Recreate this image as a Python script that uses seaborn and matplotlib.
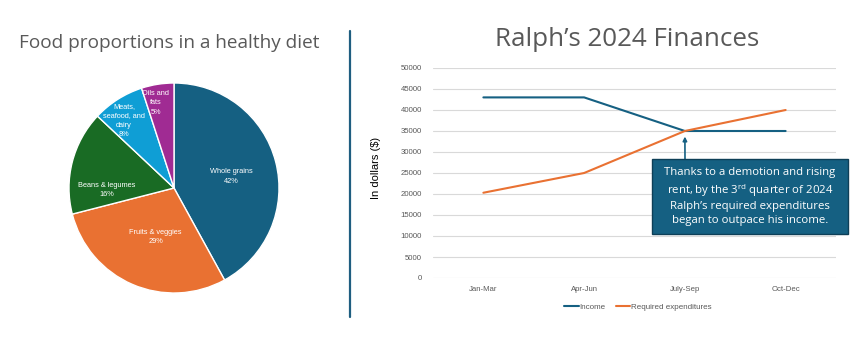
import matplotlib
matplotlib.use("Agg")
import matplotlib.pyplot as plt
from matplotlib.patches import Rectangle
from matplotlib.lines import Line2D
import numpy as np
import pandas as pd
import seaborn as sns

# Pie data: food groups and their share of a healthy diet (percent)
food_groups = ["Whole grains", "Fruits & veggies", "Beans & legumes",
               "Meats,\nseafood, and\ndairy", "Oils and\nfats"]
food_shares = [42, 29, 16, 8, 5]
food_colors = ["#156082", "#E97132", "#196B24", "#0F9ED5", "#A02B93"]

# Line data: quarterly income vs required spending
quarters = ["Jan-Mar", "Apr-Jun", "July-Sep", "Oct-Dec"]
income = [43000, 43000, 35000, 35000]
expenditures = [20300, 25000, 35000, 40000]
series_names = ["Income", "Required expenditures"]
series_colors = ["#156082", "#E97132"]
y_ticks = list(range(0, 50001, 5000))

sns.set_theme(style="white")
plt.rcParams["font.family"] = ["Liberation Sans", "DejaVu Sans"]
plt.rcParams["mathtext.fontset"] = "custom"
plt.rcParams["mathtext.rm"] = "Open Sans"

W, H = 868, 347
fig = plt.figure(figsize=(W / 100, H / 100), dpi=100)
fig.patch.set_facecolor("white")


def px_axes(left, top, right, bottom):
    return fig.add_axes([left / W, 1 - bottom / H, (right - left) / W, (bottom - top) / H])


TITLE_GRAY = "#595959"

# ---------------- Pie chart ----------------
cx, cy, r = 174, 188, 105
pax = px_axes(cx - r, cy - r, cx + r, cy + r)
wedges, _ = pax.pie(food_shares, colors=food_colors, startangle=90, counterclock=False,
                    radius=1.0, wedgeprops=dict(edgecolor="white", linewidth=1.0))
pax.set_xlim(-1, 1)
pax.set_ylim(-1, 1)
pax.set_aspect("equal")
pax.axis("off")

label_radii = [0.56, 0.50, 0.64, 0.80, 0.83]
label_angle_shift = [-3, 3, 16, 4, 3]
for w, name, share, rad, sh in zip(wedges, food_groups, food_shares, label_radii, label_angle_shift):
    ang = np.deg2rad((w.theta1 + w.theta2) / 2 + sh)
    pax.text(rad * np.cos(ang), rad * np.sin(ang), f"{name}\n{share}%",
             ha="center", va="center", color="white", fontsize=5.3, linespacing=1.5)

fig.text(169 / W, 1 - 43 / H, "Food proportions in a healthy diet",
         ha="center", va="center", fontsize=13.7, color=TITLE_GRAY, family=["Open Sans", "DejaVu Sans"])

# Divider between the two panels
fig.add_artist(Line2D([349.5 / W, 349.5 / W], [1 - 31 / H, 1 - 317 / H],
                      color="#1F5E80", linewidth=1.6, transform=fig.transFigure))

# ---------------- Line chart ----------------
lax = px_axes(433, 68, 836, 278)
df = pd.DataFrame({
    "Quarter": quarters * 2,
    "Amount": income + expenditures,
    "Series": [series_names[0]] * len(quarters) + [series_names[1]] * len(quarters),
})
sns.lineplot(data=df, x="Quarter", y="Amount", hue="Series", palette=series_colors,
             sort=False, linewidth=1.5, ax=lax, legend=False)

lax.set_xlim(-0.5, len(quarters) - 0.5)
lax.set_ylim(0, 50000)
lax.set_yticks(y_ticks)
lax.set_yticklabels([str(v) for v in y_ticks])
lax.grid(axis="y", color="#D9D9D9", linewidth=0.8)
lax.grid(axis="x", visible=False)
lax.set_axisbelow(True)
for s in lax.spines.values():
    s.set_visible(False)
lax.tick_params(axis="y", length=0, pad=8, labelsize=5.6, labelcolor=TITLE_GRAY)
lax.tick_params(axis="x", length=0, pad=6, labelsize=5.6, labelcolor=TITLE_GRAY)
lax.set_xlabel("")
lax.set_ylabel("")

fig.text(376 / W, 1 - 168 / H, "In dollars ($)", rotation=90, ha="center", va="center",
         fontsize=8, color="black")

fig.text(627 / W, 1 - 40 / H, "Ralph\u2019s 2024 Finances", ha="center", va="center",
         fontsize=18.7, color=TITLE_GRAY, family=["Open Sans", "DejaVu Sans"])

# Legend below the plot
handles = [Line2D([], [], color=c, linewidth=1.5) for c in series_colors]
leg = fig.legend(handles, series_names, loc="center", bbox_to_anchor=(638 / W, 1 - 307 / H),
                 ncol=2, frameon=False, fontsize=5.8, handlelength=1.8, handletextpad=0.1,
                 columnspacing=1.3)
for t in leg.get_texts():
    t.set_color(TITLE_GRAY)

# Callout box with arrow to the crossing point
bx0, by0, bx1, by1 = 652, 159, 848, 234
fig.add_artist(Rectangle((bx0 / W, 1 - by1 / H), (bx1 - bx0) / W, (by1 - by0) / H,
                         transform=fig.transFigure, facecolor="#156082",
                         edgecolor="#0E3F57", linewidth=1.0, zorder=5))
callout = ("Thanks to a demotion and rising\n"
           "rent, by the 3$^{\\rm rd}$ quarter of 2024\n"
           "Ralph\u2019s required expenditures\n"
           "began to outpace his income.")
fig.text((bx0 + bx1) / 2 / W, 1 - (by0 + by1) / 2 / H, callout, ha="center", va="center",
         color="white", fontsize=8.2, linespacing=1.3, zorder=6,
         family=["Open Sans", "DejaVu Sans"])
lax.annotate("", xy=(2, expenditures[2]), xycoords="data",
             xytext=(685, H - by0), textcoords="figure pixels",
             arrowprops=dict(arrowstyle="-|>", color="#156082", lw=1.2,
                             mutation_scale=6, shrinkA=0, shrinkB=4))

fig.savefig("out.png", dpi=100)
